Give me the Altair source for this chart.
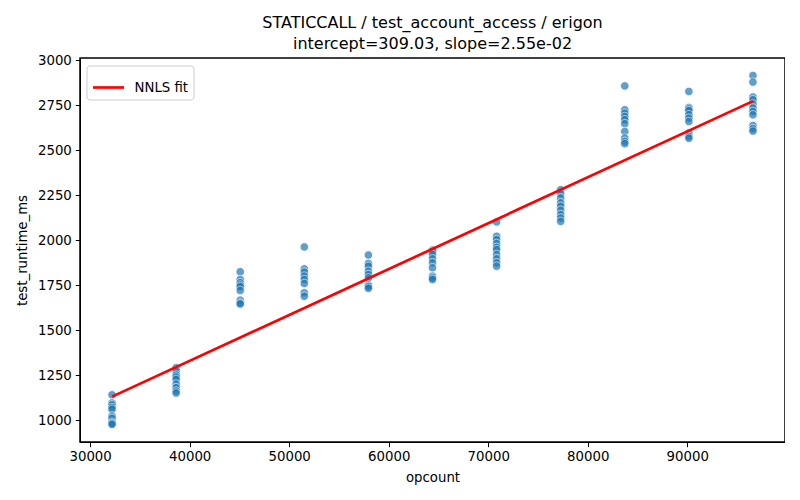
import altair as alt
import pandas as pd

opcounts = [32200, 38640, 45080, 51520, 57960, 64400, 70840, 77280, 83720, 90160, 96600]
runtimes = [
    [1140, 1095, 1085, 1070, 1060, 1022, 1010, 988, 980, 976],
    [1291, 1272, 1250, 1239, 1226, 1200, 1180, 1161, 1150],
    [1824, 1781, 1763, 1750, 1741, 1720, 1666, 1650, 1645],
    [1962, 1840, 1822, 1800, 1781, 1759, 1707, 1688],
    [1917, 1870, 1855, 1827, 1809, 1790, 1750, 1741, 1732],
    [1945, 1938, 1920, 1896, 1874, 1846, 1800, 1790, 1781],
    [2101, 2021, 2003, 1981, 1960, 1947, 1920, 1896, 1874, 1855],
    [2280, 2258, 2234, 2207, 2188, 2166, 2142, 2123, 2104],
    [2857, 2724, 2705, 2687, 2669, 2647, 2604, 2567, 2548, 2536],
    [2826, 2737, 2728, 2719, 2697, 2678, 2659, 2595, 2576, 2566],
    [2915, 2878, 2795, 2780, 2756, 2734, 2715, 2696, 2637, 2619, 2606],
]
fit_x = [32200, 96600]
fit_y = [1130.1, 2772.3]
fit_label = "NNLS fit"
title_lines = ["STATICCALL / test_account_access / erigon", "intercept=309.03, slope=2.55e-02"]

rows = [{"opcount": x, "test_runtime_ms": y} for x, ys in zip(opcounts, runtimes) for y in ys]
pts = pd.DataFrame(rows)
fit = pd.DataFrame({"opcount": fit_x, "test_runtime_ms": fit_y, "series": [fit_label] * 2})

FONT = "DejaVu Sans"
xscale = alt.Scale(domain=[28980, 99820], nice=False, zero=False)
yscale = alt.Scale(domain=[878, 3012], nice=False, zero=False)

xaxis = alt.Axis(values=list(range(30000, 100000, 10000)), format="d", grid=False,
                 title="opcount", labelFontSize=13.3, titleFontSize=13.3,
                 labelFont=FONT, titleFont=FONT, titleFontWeight="normal",
                 labelColor="black", titleColor="black", tickColor="black",
                 domainColor="black", tickSize=4.7, labelPadding=3, titlePadding=7)
yaxis = alt.Axis(values=list(range(1000, 3001, 250)), format="d", grid=False,
                 title="test_runtime_ms", labelFontSize=13.3, titleFontSize=13.3,
                 labelFont=FONT, titleFont=FONT, titleFontWeight="normal",
                 labelColor="black", titleColor="black", tickColor="black",
                 domainColor="black", tickSize=4.7, labelPadding=4, titlePadding=8)

scatter = alt.Chart(pts).mark_circle(
    size=72, color="#1f77b4", opacity=0.7, stroke="white", strokeWidth=0.8
).encode(
    x=alt.X("opcount:Q", scale=xscale, axis=xaxis),
    y=alt.Y("test_runtime_ms:Q", scale=yscale, axis=yaxis),
)

line = alt.Chart(fit).mark_line(strokeWidth=2.7).encode(
    x=alt.X("opcount:Q", scale=xscale, axis=xaxis),
    y=alt.Y("test_runtime_ms:Q", scale=yscale, axis=yaxis),
    color=alt.Color("series:N", scale=alt.Scale(domain=[fit_label], range=["red"]),
                    legend=alt.Legend(title=None, orient="none", legendX=6.5, legendY=7.5,
                                      symbolType="stroke", symbolSize=961, symbolStrokeWidth=2.7,
                                      labelFontSize=13.3, labelFont=FONT, labelColor="black",
                                      labelOffset=9, padding=5, strokeColor="#cccccc",
                                      fillColor="white", cornerRadius=3)),
)

chart = alt.layer(scatter, line).properties(
    width=705, height=384,
    background="white",
    title=alt.TitleParams(text=title_lines, fontSize=16, font=FONT, fontWeight="normal",
                          color="black", anchor="middle", offset=1, lineHeight=21),
    autosize=alt.AutoSizeParams(type="none"),
    padding={"left": 72, "top": 50, "right": 0, "bottom": 44},
).configure_view(stroke="#000000", strokeWidth=1.5, strokeOpacity=1)

chart.save("out.html", embed_options={"renderer": "svg", "actions": False})
